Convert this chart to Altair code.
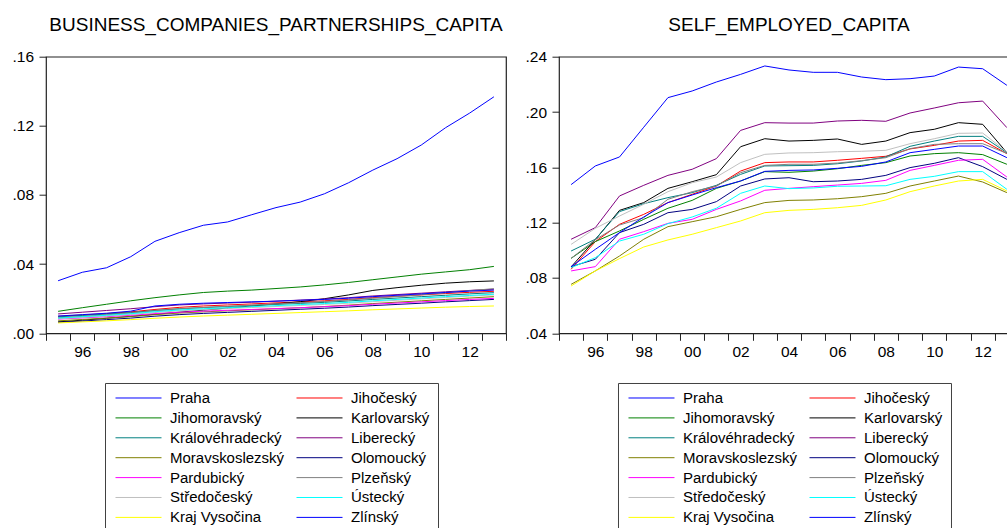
import altair as alt
import pandas as pd

years = list(range(1995, 2014))

regions = ["Praha", "Jihočeský", "Jihomoravský", "Karlovarský", "Královéhradecký",
           "Liberecký", "Moravskoslezský", "Olomoucký", "Pardubický", "Plzeňský",
           "Středočeský", "Ústecký", "Kraj Vysočina", "Zlínský"]
colors = ["#0000FF", "#FF0000", "#008000", "#000000", "#008080",
          "#800080", "#808000", "#000080", "#FF00FF", "#808080",
          "#C0C0C0", "#00FFFF", "#FFFF00", "#0000FF"]

# BUSINESS_COMPANIES_PARTNERSHIPS_CAPITA
biz_praha = [0.0304, 0.0353, 0.0379, 0.0443, 0.0532, 0.0582, 0.0625, 0.0644, 0.0686, 0.0727, 0.0759, 0.0807, 0.0871, 0.0944, 0.1010, 0.1089, 0.1189, 0.1274, 0.1368]
biz_jihocesky = [0.0098, 0.0106, 0.0114, 0.0124, 0.0138, 0.0150, 0.0158, 0.0164, 0.0170, 0.0176, 0.0182, 0.0188, 0.0196, 0.0206, 0.0214, 0.0222, 0.0230, 0.0237, 0.0243]
biz_jihomoravsky = [0.0127, 0.0148, 0.0168, 0.0188, 0.0206, 0.0222, 0.0236, 0.0244, 0.0250, 0.0259, 0.0268, 0.0280, 0.0294, 0.0310, 0.0326, 0.0342, 0.0355, 0.0368, 0.0387]
biz_karlovarsky = [0.0066, 0.0076, 0.0087, 0.0098, 0.0110, 0.0122, 0.0134, 0.0146, 0.0158, 0.0170, 0.0183, 0.0200, 0.0222, 0.0248, 0.0264, 0.0278, 0.0290, 0.0298, 0.0303]
biz_kralovehradecky = [0.0095, 0.0103, 0.0111, 0.0120, 0.0132, 0.0142, 0.0149, 0.0155, 0.0161, 0.0167, 0.0173, 0.0179, 0.0187, 0.0196, 0.0204, 0.0212, 0.0220, 0.0228, 0.0235]
biz_liberecky = [0.0112, 0.0122, 0.0132, 0.0142, 0.0154, 0.0164, 0.0170, 0.0175, 0.0180, 0.0186, 0.0192, 0.0198, 0.0206, 0.0216, 0.0224, 0.0232, 0.0240, 0.0248, 0.0255]
biz_moravskoslezsky = [0.0072, 0.0080, 0.0088, 0.0097, 0.0108, 0.0117, 0.0124, 0.0130, 0.0136, 0.0142, 0.0148, 0.0155, 0.0163, 0.0172, 0.0180, 0.0188, 0.0196, 0.0204, 0.0212]
biz_olomoucky = [0.0064, 0.0071, 0.0079, 0.0088, 0.0099, 0.0108, 0.0115, 0.0121, 0.0127, 0.0133, 0.0139, 0.0145, 0.0152, 0.0160, 0.0167, 0.0174, 0.0182, 0.0189, 0.0196]
biz_pardubicky = [0.0082, 0.0089, 0.0096, 0.0104, 0.0114, 0.0122, 0.0128, 0.0133, 0.0138, 0.0143, 0.0148, 0.0154, 0.0160, 0.0168, 0.0175, 0.0182, 0.0189, 0.0196, 0.0202]
biz_plzensky = [0.0090, 0.0098, 0.0107, 0.0117, 0.0130, 0.0141, 0.0149, 0.0156, 0.0163, 0.0170, 0.0177, 0.0184, 0.0193, 0.0203, 0.0213, 0.0223, 0.0234, 0.0247, 0.0258]
biz_stredocesky = [0.0084, 0.0092, 0.0100, 0.0109, 0.0120, 0.0130, 0.0137, 0.0143, 0.0149, 0.0155, 0.0161, 0.0167, 0.0174, 0.0183, 0.0191, 0.0199, 0.0207, 0.0215, 0.0222]
biz_ustecky = [0.0088, 0.0096, 0.0104, 0.0113, 0.0125, 0.0135, 0.0142, 0.0148, 0.0154, 0.0160, 0.0166, 0.0172, 0.0179, 0.0188, 0.0196, 0.0204, 0.0212, 0.0219, 0.0226]
biz_vysocina = [0.0060, 0.0066, 0.0072, 0.0079, 0.0087, 0.0094, 0.0100, 0.0105, 0.0110, 0.0115, 0.0120, 0.0125, 0.0130, 0.0136, 0.0141, 0.0146, 0.0151, 0.0155, 0.0158]
biz_zlinsky = [0.0100, 0.0108, 0.0116, 0.0128, 0.0158, 0.0168, 0.0174, 0.0178, 0.0182, 0.0186, 0.0191, 0.0196, 0.0203, 0.0212, 0.0220, 0.0228, 0.0236, 0.0244, 0.0250]

# SELF_EMPLOYED_CAPITA
self_praha = [0.1475, 0.1610, 0.1675, 0.1890, 0.2104, 0.2152, 0.2217, 0.2272, 0.2333, 0.2304, 0.2287, 0.2287, 0.2253, 0.2234, 0.2241, 0.2260, 0.2325, 0.2313, 0.2193]
self_jihocesky = [0.0863, 0.1063, 0.1188, 0.1260, 0.1345, 0.1405, 0.1465, 0.1573, 0.1634, 0.1639, 0.1639, 0.1651, 0.1665, 0.1680, 0.1733, 0.1759, 0.1790, 0.1795, 0.1699]
self_jihomoravsky = [0.0942, 0.1063, 0.1140, 0.1224, 0.1304, 0.1361, 0.1448, 0.1501, 0.1569, 0.1564, 0.1573, 0.1590, 0.1614, 0.1634, 0.1682, 0.1699, 0.1706, 0.1692, 0.1622]
self_karlovarsky = [0.0880, 0.1077, 0.1289, 0.1345, 0.1448, 0.1496, 0.1547, 0.1749, 0.1807, 0.1790, 0.1795, 0.1805, 0.1766, 0.1790, 0.1851, 0.1875, 0.1923, 0.1911, 0.1706]
self_kralovehradecky = [0.0995, 0.1080, 0.1280, 0.1337, 0.1381, 0.1417, 0.1470, 0.1549, 0.1610, 0.1612, 0.1614, 0.1626, 0.1646, 0.1675, 0.1752, 0.1790, 0.1824, 0.1824, 0.1706]
self_liberecky = [0.1080, 0.1164, 0.1393, 0.1470, 0.1542, 0.1586, 0.1663, 0.1867, 0.1923, 0.1920, 0.1920, 0.1935, 0.1940, 0.1933, 0.1993, 0.2029, 0.2067, 0.2079, 0.1887]
self_moravskoslezsky = [0.0754, 0.0851, 0.0959, 0.1080, 0.1171, 0.1207, 0.1243, 0.1296, 0.1345, 0.1361, 0.1364, 0.1373, 0.1388, 0.1412, 0.1465, 0.1501, 0.1537, 0.1494, 0.1417]
self_olomoucky = [0.0882, 0.0935, 0.1128, 0.1188, 0.1272, 0.1296, 0.1352, 0.1465, 0.1516, 0.1525, 0.1496, 0.1501, 0.1513, 0.1542, 0.1598, 0.1629, 0.1670, 0.1605, 0.1513]
self_pardubicky = [0.0851, 0.0882, 0.1080, 0.1135, 0.1195, 0.1224, 0.1296, 0.1357, 0.1434, 0.1448, 0.1460, 0.1472, 0.1484, 0.1506, 0.1578, 0.1614, 0.1651, 0.1658, 0.1530]
self_plzensky = [0.0942, 0.1077, 0.1183, 0.1236, 0.1369, 0.1424, 0.1465, 0.1561, 0.1614, 0.1622, 0.1622, 0.1631, 0.1648, 0.1670, 0.1735, 0.1766, 0.1771, 0.1771, 0.1701]
self_stredocesky = [0.1043, 0.1159, 0.1248, 0.1333, 0.1424, 0.1489, 0.1530, 0.1634, 0.1694, 0.1704, 0.1706, 0.1713, 0.1716, 0.1723, 0.1771, 0.1807, 0.1846, 0.1848, 0.1711]
self_ustecky = [0.0875, 0.0947, 0.1067, 0.1116, 0.1193, 0.1241, 0.1304, 0.1412, 0.1465, 0.1446, 0.1451, 0.1463, 0.1465, 0.1467, 0.1513, 0.1535, 0.1569, 0.1569, 0.1441]
self_vysocina = [0.0742, 0.0851, 0.0940, 0.1024, 0.1075, 0.1116, 0.1164, 0.1212, 0.1272, 0.1289, 0.1296, 0.1308, 0.1325, 0.1364, 0.1424, 0.1465, 0.1501, 0.1513, 0.1429]
self_zlinsky = [0.0882, 0.1007, 0.1128, 0.1241, 0.1345, 0.1400, 0.1453, 0.1501, 0.1571, 0.1578, 0.1581, 0.1593, 0.1607, 0.1639, 0.1706, 0.1730, 0.1754, 0.1754, 0.1670]

biz_series = [biz_praha, biz_jihocesky, biz_jihomoravsky, biz_karlovarsky, biz_kralovehradecky,
              biz_liberecky, biz_moravskoslezsky, biz_olomoucky, biz_pardubicky, biz_plzensky,
              biz_stredocesky, biz_ustecky, biz_vysocina, biz_zlinsky]
self_series = [self_praha, self_jihocesky, self_jihomoravsky, self_karlovarsky, self_kralovehradecky,
               self_liberecky, self_moravskoslezsky, self_olomoucky, self_pardubicky, self_plzensky,
               self_stredocesky, self_ustecky, self_vysocina, self_zlinsky]

left_ticks = [0.0, 0.04, 0.08, 0.12, 0.16]
right_ticks = [0.04, 0.08, 0.12, 0.16, 0.20, 0.24]

# legend is filled column by column (7 rows): reorder so it reads row by row
legend_domain = regions[0::2] + regions[1::2]
legend_range = colors[0::2] + colors[1::2]

FONT = "Liberation Sans"
FRAME = "#222222"


def long_df(series):
    rows = []
    for k, (name, vals) in enumerate(zip(regions, series)):
        for y, v in zip(years, vals):
            rows.append({"region": name, "year": y, "value": v, "k": k})
    return pd.DataFrame(rows)


x_tick_vals = [1994.5 + i for i in range(20)]
x_label_expr = ("(datum.value - 1995.5) % 2 == 0 && datum.value < 2013 ? "
                "(((datum.value + 0.5) % 100) < 10 ? '0' + ((datum.value + 0.5) % 100) : '' + ((datum.value + 0.5) % 100)) : ''")


def panel(series, title, ydomain, yticks):
    df = long_df(series)
    return alt.Chart(df).mark_line(strokeWidth=1, clip=True).encode(
        x=alt.X("year:Q",
                scale=alt.Scale(domain=[1994.5, 2013.5], nice=False, zero=False),
                axis=alt.Axis(values=x_tick_vals, labelExpr=x_label_expr, title=None,
                              labelOffset=12.1, labelFlush=False, labelOverlap=False,
                              tickSize=7, labelPadding=4, grid=False, domain=False)),
        y=alt.Y("value:Q",
                scale=alt.Scale(domain=ydomain, nice=False, zero=False),
                axis=alt.Axis(values=yticks, labelExpr="slice(format(datum.value, '.2f'), 1)",
                              title=None, tickSize=7, labelPadding=5.5, grid=False, domain=False,
                              labelFlush=False, labelOverlap=False)),
        color=alt.Color("region:N",
                        scale=alt.Scale(domain=legend_domain, range=legend_range),
                        legend=alt.Legend(orient="none", legendX=59, legendY=326.3, columns=2,
                                          title=None, symbolType="stroke", symbolSize=2116,
                                          symbolStrokeWidth=1, clipHeight=14, rowPadding=4.9,
                                          columnPadding=9, padding=8, symbolOffset=2,
                                          labelOffset=8, labelFontSize=15, labelFont=FONT,
                                          labelColor="#000000", strokeColor="#404040",
                                          labelLimit=300)),
        order=alt.Order("k:Q"),
        detail="region:N",
    ).properties(
        width=460, height=276.6,
        title=alt.TitleParams(text=title, fontSize=19, font=FONT, fontWeight="normal",
                              color="#000000", offset=15, anchor="middle"),
    )


left = panel(biz_series, "BUSINESS_COMPANIES_PARTNERSHIPS_CAPITA", [0.0, 0.16], left_ticks)
right = panel(self_series, "SELF_EMPLOYED_CAPITA", [0.04, 0.24], right_ticks)

# fixed 1007x528 canvas; the first plot area starts at the padding origin,
# anything beyond the canvas (right panel edge, legend bottoms) is cut off
PAD_L, PAD_T = 46, 56.7
chart = alt.hconcat(left, right, spacing=5).resolve_scale(
    x="independent", y="independent", color="independent"
).properties(
    autosize=alt.AutoSizeParams(type="none"),
    padding={"left": PAD_L, "top": PAD_T, "right": 1007 - PAD_L, "bottom": 528 - PAD_T},
    background="#FFFFFF",
).configure_view(
    stroke=FRAME, strokeWidth=1.2
).configure_axis(
    labelFont=FONT, labelFontSize=15.5, labelColor="#000000",
    tickColor=FRAME, tickWidth=1,
)

chart.save("out.html", embed_options={"renderer": "svg", "actions": False})
